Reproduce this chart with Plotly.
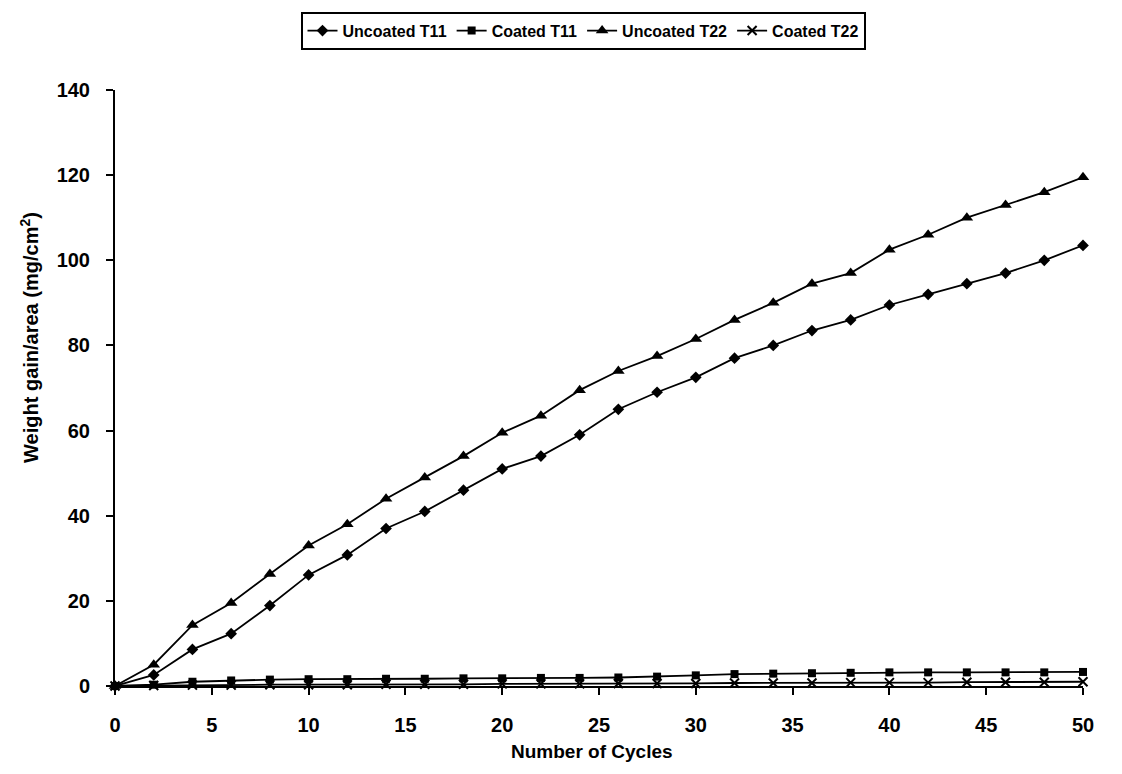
import plotly.graph_objects as go

cycles = list(range(0, 51, 2))
uncoated_t11 = [0, 2.6, 8.6, 12.3, 18.9, 26.1, 30.8, 37, 41, 46, 51, 54, 59, 65, 69, 72.5, 77, 80, 83.5, 86, 89.5, 92, 94.5, 97, 100, 103.5]
coated_t11 = [0, 0.3, 1.0, 1.3, 1.5, 1.6, 1.6, 1.7, 1.7, 1.8, 1.8, 1.9, 1.9, 2.0, 2.2, 2.5, 2.8, 2.9, 3.0, 3.1, 3.2, 3.2, 3.2, 3.2, 3.2, 3.3]
uncoated_t22 = [0, 5.0, 14.3, 19.5, 26.3, 33, 38, 44, 49, 54, 59.5, 63.5, 69.5, 74, 77.5, 81.5, 86, 90, 94.5, 97, 102.5, 106, 110, 113, 116, 119.5]
coated_t22 = [0, 0.1, 0.2, 0.2, 0.3, 0.3, 0.3, 0.4, 0.4, 0.4, 0.5, 0.5, 0.5, 0.6, 0.6, 0.6, 0.7, 0.7, 0.7, 0.8, 0.8, 0.8, 0.9, 0.9, 0.9, 1.0]

series = [
    ("Uncoated T11", uncoated_t11, "diamond", 9),
    ("Coated T11", coated_t11, "square", 8),
    ("Uncoated T22", uncoated_t22, "triangle-up", 11),
    ("Coated T22", coated_t22, "x-thin-open", 9),
]

FONT = "Liberation Sans, Arial, sans-serif"
fig = go.Figure()
for name, vals, sym, sz in series:
    fig.add_trace(go.Scatter(
        x=cycles, y=vals, name=name, mode="lines+markers",
        line=dict(color="black", width=1.8),
        marker=dict(symbol=sym, size=sz, color="black", line=dict(color="black", width=2 if "open" in sym else 0)),
        cliponaxis=False,
    ))

W, H = 1122, 774
L, R, T, B = 115, 39, 85, 88
pw, ph = W - L - R, H - T - B

def px_x(p):
    return (p - L) / pw

def px_y(p):
    return (H - B - p) / ph

fig.update_layout(
    width=W, height=H,
    paper_bgcolor="white", plot_bgcolor="white",
    margin=dict(l=L, r=R, t=T, b=B),
    font=dict(family=FONT, color="black", size=18, weight="bold"),
    showlegend=True,
    legend=dict(
        orientation="h", x=px_x(583), xanchor="center", y=px_y(6), yanchor="top",
        bordercolor="black", borderwidth=2, bgcolor="white",
        font=dict(family=FONT, size=16, weight="bold", color="black"),
        itemwidth=30, tracegroupgap=0,
    ),
    xaxis=dict(
        range=[0, 50], tickvals=list(range(0, 51, 5)),
        showgrid=False, zeroline=False, showline=True, linecolor="black", linewidth=2,
        ticks="outside", ticklen=7, tickwidth=2, tickcolor="black",
        tickfont=dict(family=FONT, size=20, weight="bold"),
        ticklabelstandoff=13,
    ),
    yaxis=dict(
        range=[0, 140], tickvals=list(range(0, 141, 20)),
        showgrid=False, zeroline=False, showline=True, linecolor="black", linewidth=2,
        ticks="outside", ticklen=7, tickwidth=2, tickcolor="black",
        tickfont=dict(family=FONT, size=20, weight="bold"),
        ticklabelstandoff=12,
    ),
    annotations=[
        dict(text="Number of Cycles", xref="paper", yref="paper", x=px_x(592), y=px_y(752),
             xanchor="center", yanchor="middle", showarrow=False,
             font=dict(family=FONT, size=19, weight="bold", color="black")),
        dict(text="Weight gain/area (mg/cm<sup>2</sup>)", xref="paper", yref="paper", x=px_x(30), y=px_y(335),
             xanchor="center", yanchor="middle", showarrow=False, textangle=-90,
             font=dict(family=FONT, size=20, weight="bold", color="black")),
    ],
)

fig.write_html("out.html")
